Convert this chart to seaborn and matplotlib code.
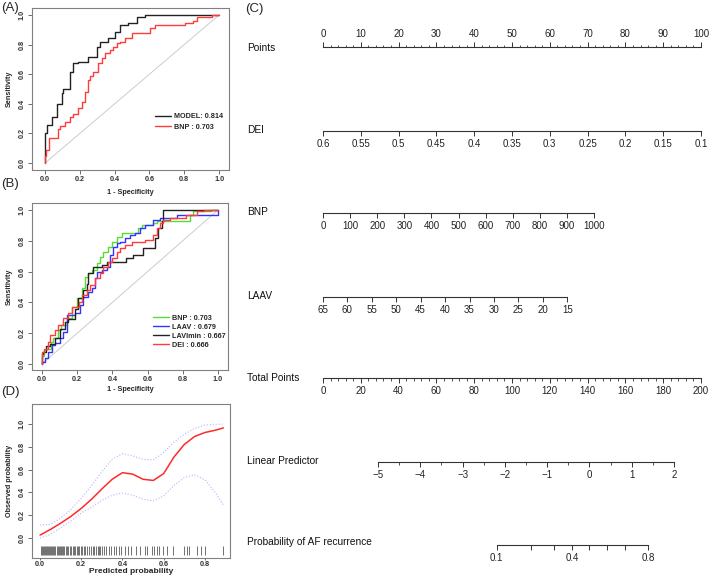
import numpy as np
import pandas as pd
import matplotlib
matplotlib.use("Agg")
import matplotlib.pyplot as plt
import seaborn as sns

# ---- data ----
# (A) ROC: MODEL vs BNP
model_fpr = [0, 0.01, 0.038, 0.067, 0.096, 0.105, 0.144, 0.163, 0.191, 0.249, 0.297, 0.316,
             0.364, 0.402, 0.431, 0.479, 0.527, 0.575, 0.671, 1.0]
model_tpr = [0, 0.2, 0.257, 0.313, 0.40, 0.47, 0.50, 0.617, 0.674, 0.68, 0.718, 0.786,
             0.82, 0.842, 0.887, 0.932, 0.948, 0.984, 1.0, 1.0]
bnp_a_fpr = [0, 0.003, 0.02, 0.048, 0.077, 0.086, 0.115, 0.144, 0.163, 0.191, 0.21, 0.23,
             0.249, 0.259, 0.278, 0.307, 0.326, 0.345, 0.374, 0.393, 0.412, 0.431, 0.46,
             0.498, 0.604, 0.633, 0.805, 0.853, 0.872, 0.958, 0.968, 1.0]
bnp_a_tpr = [0, 0.05, 0.09, 0.17, 0.17, 0.23, 0.25, 0.28, 0.31, 0.33, 0.37, 0.41,
             0.48, 0.56, 0.59, 0.617, 0.674, 0.71, 0.74, 0.763, 0.786, 0.81, 0.82,
             0.842, 0.876, 0.91, 0.93, 0.948, 0.962, 0.984, 1.0, 1.0]

# (B) ROC: single markers
bnp_b_fpr = [0, 0.01, 0.02, 0.05, 0.06, 0.09, 0.11, 0.14, 0.169, 0.197, 0.225, 0.244, 0.263,
             0.282, 0.31, 0.33, 0.348, 0.377, 0.396, 0.424, 0.452, 0.547, 0.566, 0.633, 0.652,
             0.84, 0.86, 0.96, 0.98, 1.0]
bnp_b_tpr = [0, 0.05, 0.09, 0.10, 0.145, 0.167, 0.22, 0.253, 0.297, 0.372, 0.426, 0.491, 0.567,
             0.589, 0.61, 0.654, 0.697, 0.73, 0.76, 0.794, 0.827, 0.848, 0.88, 0.903, 0.914,
             0.925, 0.97, 0.99, 1.0, 1.0]
laav_fpr = [0, 0.017, 0.036, 0.055, 0.074, 0.102, 0.12, 0.14, 0.187, 0.216, 0.235, 0.263,
            0.282, 0.301, 0.31, 0.339, 0.367, 0.386, 0.405, 0.424, 0.443, 0.471, 0.5, 0.528,
            0.557, 0.585, 0.633, 0.67, 0.765, 0.793, 1.0, 1.0]
laav_tpr = [0, 0.015, 0.037, 0.08, 0.123, 0.134, 0.167, 0.21, 0.318, 0.329, 0.383, 0.437,
            0.469, 0.491, 0.556, 0.6, 0.61, 0.632, 0.708, 0.762, 0.784, 0.794, 0.816, 0.838,
            0.848, 0.881, 0.903, 0.935, 0.946, 0.97, 0.97, 1.0]
lavi_fpr = [0, 0.003, 0.02, 0.045, 0.074, 0.1, 0.13, 0.15, 0.187, 0.206, 0.235, 0.254, 0.263,
            0.29, 0.339, 0.367, 0.48, 0.519, 0.576, 0.64, 0.66, 0.68, 0.69, 0.765, 1.0]
lavi_tpr = [0, 0.065, 0.08, 0.12, 0.13, 0.17, 0.23, 0.27, 0.29, 0.357, 0.426, 0.48, 0.52,
            0.589, 0.632, 0.643, 0.665, 0.686, 0.708, 0.751, 0.816, 0.881, 0.925, 1.0, 1.0]
dei_fpr = [0, 0.01, 0.035, 0.045, 0.074, 0.09, 0.12, 0.15, 0.17, 0.21, 0.225, 0.254, 0.273,
           0.3, 0.33, 0.348, 0.377, 0.396, 0.424, 0.443, 0.47, 0.51, 0.585, 0.633, 0.652,
           0.67, 0.69, 0.73, 0.82, 0.88, 0.92, 0.96, 1.0]
dei_tpr = [0, 0.08, 0.10, 0.145, 0.19, 0.22, 0.25, 0.297, 0.33, 0.37, 0.405, 0.448, 0.48,
           0.513, 0.556, 0.589, 0.632, 0.665, 0.686, 0.73, 0.75, 0.773, 0.794, 0.805, 0.838,
           0.881, 0.914, 0.935, 0.946, 0.968, 0.99, 1.0, 1.0]

# (D) calibration curve (apparent fit with upper/lower bands)
cal_x = [0.0, 0.05, 0.1, 0.15, 0.2, 0.25, 0.3, 0.35, 0.4, 0.45, 0.5, 0.55, 0.6, 0.65, 0.7,
         0.75, 0.8, 0.85, 0.89]
cal_y = [0.026, 0.075, 0.13, 0.19, 0.26, 0.34, 0.43, 0.515, 0.573, 0.56, 0.515, 0.505, 0.565,
         0.71, 0.82, 0.89, 0.925, 0.945, 0.965]
up_y = [0.114, 0.12, 0.175, 0.25, 0.35, 0.46, 0.58, 0.69, 0.74, 0.72, 0.69, 0.685, 0.75,
        0.84, 0.91, 0.96, 0.99, 0.997, 0.998]
lo_y = [0.0, 0.03, 0.09, 0.15, 0.22, 0.27, 0.33, 0.375, 0.395, 0.375, 0.34, 0.325, 0.37,
        0.46, 0.53, 0.555, 0.51, 0.40, 0.29]
rug_x = [0.005, 0.01, 0.015, 0.02, 0.022, 0.03, 0.035, 0.04, 0.045, 0.05, 0.055, 0.06, 0.063,
         0.07, 0.075, 0.08, 0.085, 0.09, 0.095, 0.1, 0.105, 0.11, 0.118, 0.125, 0.13, 0.138,
         0.145, 0.15, 0.158, 0.165, 0.17, 0.178, 0.185, 0.19, 0.2, 0.205, 0.215, 0.22, 0.23,
         0.24, 0.245, 0.255, 0.26, 0.27, 0.28, 0.285, 0.29, 0.3, 0.31, 0.32, 0.335, 0.345,
         0.36, 0.37, 0.385, 0.395, 0.41, 0.425, 0.442, 0.466, 0.485, 0.51, 0.521, 0.542,
         0.553, 0.566, 0.579, 0.599, 0.615, 0.644, 0.699, 0.712, 0.725, 0.761, 0.78, 0.801, 0.89]

# (C) nomogram scales
points_ticks = [0, 10, 20, 30, 40, 50, 60, 70, 80, 90, 100]
dei_ticks = [0.6, 0.55, 0.5, 0.45, 0.4, 0.35, 0.3, 0.25, 0.2, 0.15, 0.1]
dei_labels = ["0.6", "0.55", "0.5", "0.45", "0.4", "0.35", "0.3", "0.25", "0.2", "0.15", "0.1"]
bnp_ticks = [0, 100, 200, 300, 400, 500, 600, 700, 800, 900, 1000]
bnp_max_points = 71.7
laav_ticks = [65, 60, 55, 50, 45, 40, 35, 30, 25, 20, 15]
laav_max_points = 64.6
total_ticks = [0, 20, 40, 60, 80, 100, 120, 140, 160, 180, 200]
lp_ticks = [-5, -4, -3, -2, -1, 0, 1, 2]
lp_labels = ["\u22125", "\u22124", "\u22123", "\u22122", "\u22121", "0", "1", "2"]
lp_at_total = (29.1, 185.7)  # total points where lp = -5 and lp = 2
prob_ticks = [0.1, 0.2, 0.3, 0.4, 0.5, 0.6, 0.7, 0.8]
prob_labels = ["0.1", "", "", "0.4", "", "", "", "0.8"]

# ---- figure ----
sns.set_style("ticks")
plt.rcParams["font.family"] = ["Liberation Sans", "DejaVu Sans"]
W, H = 709, 576
fig = plt.figure(figsize=(W / 100, H / 100), dpi=100)


def rect(x0, y0, x1, y1):
    return [x0 / W, 1 - y1 / H, (x1 - x0) / W, (y1 - y0) / H]


FRAME = "#808080"
SMALL = dict(fontsize=5.2, fontweight="bold")


def style_plot(ax, xlim, ylim, xticks, yticks):
    ax.set_xlim(*xlim)
    ax.set_ylim(*ylim)
    ax.set_xticks(xticks)
    ax.set_yticks(yticks)
    ax.set_xticklabels([f"{t:.1f}" for t in xticks], **SMALL)
    ax.set_yticklabels([f"{t:.1f}" for t in yticks], rotation=90, va="center", **SMALL)
    for s in ax.spines.values():
        s.set_visible(True)
        s.set_color(FRAME)
        s.set_linewidth(0.8)
    ax.tick_params(length=3, width=0.6, color="#555555", pad=1.5, labelcolor="#333333")
    ax.grid(False)


def roc_plot(ax, curves):
    ax.plot([0, 1], [0, 1], color="#cccccc", lw=0.7)
    for label, fpr, tpr, col in curves:
        df = pd.DataFrame({"fpr": fpr, "tpr": tpr})
        sns.lineplot(data=df, x="fpr", y="tpr", color=col, lw=1.0, drawstyle="steps-pre",
                     estimator=None, sort=False, label=label, ax=ax)


ticks01 = [0.0, 0.2, 0.4, 0.6, 0.8, 1.0]

# (A)
axA = fig.add_axes(rect(32, 8, 229, 170))
roc_plot(axA, [("MODEL: 0.814", model_fpr, model_tpr, "#222222"),
               ("BNP : 0.703", bnp_a_fpr, bnp_a_tpr, "#ff3b3b")])
style_plot(axA, (-0.075, 1.057), (-0.047, 1.047), ticks01, ticks01)
axA.set_xlabel("1 - Specificity", labelpad=4, **SMALL)
axA.set_ylabel("Sensitivity", labelpad=4, **SMALL)
axA.legend(loc="upper left", bbox_to_anchor=(0.624, 0.35), frameon=False,
           prop=dict(size=5.2, weight="bold"), handlelength=2.2, handletextpad=0.4,
           labelspacing=0.45, borderpad=0, borderaxespad=0)

# (B)
axB = fig.add_axes(rect(32, 203, 228, 370))
roc_plot(axB, [("BNP : 0.703", bnp_b_fpr, bnp_b_tpr, "#55dd33"),
               ("LAAV : 0.679", laav_fpr, laav_tpr, "#3333ff"),
               ("LAVImin : 0.667", lavi_fpr, lavi_tpr, "#222222"),
               ("DEI : 0.666", dei_fpr, dei_tpr, "#ff3b3b")])
style_plot(axB, (-0.057, 1.057), (-0.039, 1.045), ticks01, ticks01)
axB.set_xlabel("1 - Specificity", labelpad=2, **SMALL)
axB.set_ylabel("Sensitivity", labelpad=4, **SMALL)
axB.legend(loc="upper left", bbox_to_anchor=(0.617, 0.33), frameon=False,
           prop=dict(size=5.2, weight="bold"), handlelength=2.2, handletextpad=0.4,
           labelspacing=0.25, borderpad=0, borderaxespad=0)

# (D)
axD = fig.add_axes(rect(32, 404, 230, 558))
sns.lineplot(x=cal_x, y=up_y, color="#b4b4ff", lw=0.8, ls=":", estimator=None, sort=False, ax=axD)
sns.lineplot(x=cal_x, y=lo_y, color="#b4b4ff", lw=0.8, ls=":", estimator=None, sort=False, ax=axD)
sns.lineplot(x=cal_x, y=cal_y, color="#ff2a2a", lw=1.1, estimator=None, sort=False, ax=axD)
axD.vlines(rug_x, -0.15, -0.07, color="#222222", lw=0.45)
style_plot(axD, (-0.039, 0.922), (-0.175, 1.175), [0.0, 0.2, 0.4, 0.6, 0.8], ticks01)
axD.tick_params(axis="x", length=1.5, pad=0.8)
axD.set_xlabel("Predicted probability", labelpad=0, fontsize=6, fontweight="bold")
axD.set_ylabel("Observed probability", labelpad=4, **SMALL)

# panel letters
for txt, x, y in [("(A)", 1, 8), ("(B)", 1, 184), ("(D)", 1, 392), ("(C)", 245, 9)]:
    fig.text(x / W, 1 - y / H, txt, fontsize=9.5, va="center", ha="left")

# (C) nomogram
NFONT = ["Liberation Sans", "DejaVu Sans"]
LINE = "#333333"
X0, X1 = 323, 701


def nomo_row(y, xlim, major, labels, minor=None, top=False, bounds=None, scale=None):
    if top:
        ax = fig.add_axes(rect(X0, y, X1, y + 2))
        side = "top"
    else:
        ax = fig.add_axes(rect(X0, y - 2, X1, y))
        side = "bottom"
    if scale:
        ax.set_xscale(scale)
    ax.set_xlim(*xlim)
    ax.set_yticks([])
    ax.patch.set_visible(False)
    for k, s in ax.spines.items():
        s.set_visible(k == side)
    ax.spines[side].set_color(LINE)
    ax.spines[side].set_linewidth(0.8)
    if bounds is not None:
        ax.spines[side].set_bounds(*bounds)
    ax.xaxis.set_ticks_position(side)
    ax.set_xticks(major)
    ax.set_xticklabels(labels, family=NFONT, fontsize=7, color="#222222")
    if minor is not None:
        ax.set_xticks(minor, minor=True)
    else:
        ax.xaxis.set_minor_locator(matplotlib.ticker.NullLocator())
    ax.tick_params(axis="x", which="major", length=3.5, width=0.7, color=LINE, pad=2.5)
    ax.tick_params(axis="x", which="minor", length=1.8, width=0.6, color=LINE)
    return ax


def row_label(y, txt):
    fig.text(247 / W, 1 - y / H, txt, family=NFONT, fontsize=7.3, va="center", ha="left",
             color="#111111")


row_label(48, "Points")
nomo_row(47, (0, 100), points_ticks, [str(t) for t in points_ticks],
         minor=list(range(0, 101, 2)), top=True)

row_label(130, "DEI")
nomo_row(131, (0.6, 0.1), dei_ticks, dei_labels)

row_label(212, "BNP")
nomo_row(213, (0, 1000 * 100 / bnp_max_points), bnp_ticks, [str(t) for t in bnp_ticks],
         bounds=(0, 1000))

row_label(296, "LAAV")
laav_per_point = (laav_ticks[0] - laav_ticks[-1]) / laav_max_points
nomo_row(297, (65, 65 - 100 * laav_per_point), laav_ticks, [str(t) for t in laav_ticks],
         bounds=(65, 15))

row_label(378, "Total Points")
nomo_row(378, (0, 200), total_ticks, [str(t) for t in total_ticks],
         minor=list(range(0, 201, 4)))

# linear predictor axis: total points -> lp
lp_per_pt = (lp_ticks[-1] - lp_ticks[0]) / (lp_at_total[1] - lp_at_total[0])
lp_lo = lp_ticks[0] - lp_at_total[0] * lp_per_pt
lp_hi = lp_ticks[0] + (200 - lp_at_total[0]) * lp_per_pt
row_label(461, "Linear Predictor")
nomo_row(462, (lp_lo, lp_hi), lp_ticks, lp_labels,
         minor=[v / 2 for v in range(-10, 5)], bounds=(-5, 2))

row_label(542, "Probability of AF recurrence")
expit = lambda v: 1 / (1 + np.exp(-v))
nomo_row(545, (expit(lp_lo), expit(lp_hi)), prob_ticks, prob_labels,
         bounds=(0.1, 0.8), scale="logit")

fig.savefig("out.png", dpi=100)
